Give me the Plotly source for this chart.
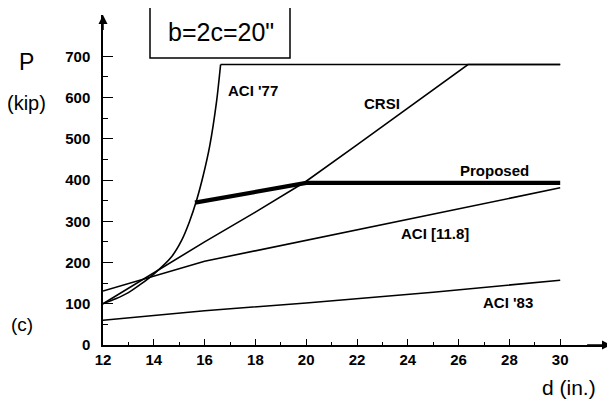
import plotly.graph_objects as go

# ---- data ----
d_aci77 = [12, 12.5, 13, 13.5, 14, 14.7, 15.1, 15.4, 15.69, 15.95, 16.2, 16.47, 16.63]
p_aci77 = [100, 112, 127, 148, 172, 214, 254, 298, 352, 412, 482, 590, 680]
d_aci77_cap = [16.63, 30]
p_aci77_cap = [680, 680]

d_crsi = [12, 14, 16, 18, 20, 22, 24, 26.37, 30]
p_crsi = [100, 175, 250, 322, 397, 485, 575, 680, 680]

d_prop = [15.62, 20, 30]
p_prop = [345, 393, 393]

d_aci118 = [12, 16, 30]
p_aci118 = [131, 203, 381]

d_aci83 = [12, 16, 20, 25, 30]
p_aci83 = [60, 83, 102, 128, 157]

x_ticks = [12, 14, 16, 18, 20, 22, 24, 26, 28, 30]
x_minor = [13, 15, 17, 19, 21, 23, 25, 27, 29]
y_ticks = [0, 100, 200, 300, 400, 500, 600, 700]
y_minor = [50, 150, 250, 350, 450, 550, 650]

# ---- layout geometry (page has an 8px body margin) ----
OFF = 8
W, H = 615 - OFF, 399 - OFF
PX0, PX1, PY0, PY1 = 103, 611, 15, 345          # plot area in screen pixels
L, R, T, B = PX0 - OFF, 615 - PX1, PY0 - OFF, 399 - PY1


def px(x):
    return (x - PX0) / (PX1 - PX0)


def py(y):
    return (PY1 - y) / (PY1 - PY0)


fig = go.Figure()
thin = dict(color="black", width=1.6)
fig.add_trace(go.Scatter(x=d_aci77, y=p_aci77, mode="lines",
                         line=dict(thin, shape="spline", smoothing=0.8), name="ACI '77"))
fig.add_trace(go.Scatter(x=d_aci77_cap, y=p_aci77_cap, mode="lines", line=thin, name="ACI '77 cap"))
fig.add_trace(go.Scatter(x=d_crsi, y=p_crsi, mode="lines", line=thin, name="CRSI"))
fig.add_trace(go.Scatter(x=d_aci118, y=p_aci118, mode="lines", line=thin, name="ACI [11.8]"))
fig.add_trace(go.Scatter(x=d_aci83, y=p_aci83, mode="lines", line=thin, name="ACI '83"))
fig.add_trace(go.Scatter(x=d_prop, y=p_prop, mode="lines", line=dict(color="black", width=4.2), name="Proposed"))

lab_font = dict(family="Liberation Sans, Arial, sans-serif", size=15, color="black", weight="bold")
labels = [("ACI '77", 17.9, 617), ("CRSI", 23.0, 586), ("Proposed", 27.4, 424),
          ("ACI [11.8]", 25.07, 271), ("ACI '83", 27.94, 102)]
for t, x, y in labels:
    fig.add_annotation(x=x, y=y, text=t, showarrow=False, font=lab_font,
                       xanchor="center", yanchor="middle")

big = dict(family="Liberation Sans, Arial, sans-serif", color="black")
outside = [("P", 26, 62, 23), ("(kip)", 26, 103, 20), ("(c)", 22, 324, 19),
           ("d (in.)", 569, 387, 21), ("b=2c=20\"", 221, 32, 25)]
for t, x, y, s in outside:
    fig.add_annotation(xref="paper", yref="paper", x=px(x), y=py(y), text=t, showarrow=False,
                       font=dict(big, size=s), xanchor="center", yanchor="middle")
fig.add_shape(type="rect", xref="paper", yref="paper", x0=px(150), x1=px(290), y0=py(58), y1=py(6),
              line=dict(color="black", width=1.5))

# axis arrows
fig.add_annotation(x=32, y=0, ax=31, ay=0, axref="x", ayref="y", text="", showarrow=True,
                   arrowhead=2, arrowsize=1.2, arrowwidth=1.5, arrowcolor="black")
fig.add_annotation(x=12, y=800, ax=12, ay=760, axref="x", ayref="y", text="", showarrow=True,
                   arrowhead=2, arrowsize=1.2, arrowwidth=1.5, arrowcolor="black")

tick_font = dict(family="Liberation Sans, Arial, sans-serif", size=15, color="black", weight="bold")
fig.update_xaxes(range=[12, 32], showline=True, linecolor="black", linewidth=1.5, mirror=False,
                 showgrid=False, zeroline=False, ticks="inside", ticklen=6, tickwidth=1.3,
                 tickcolor="black", tickvals=x_ticks, ticktext=[str(v) for v in x_ticks],
                 tickfont=tick_font,
                 minor=dict(tickvals=x_minor, ticks="inside", ticklen=3, tickcolor="black", tickwidth=1))
fig.update_yaxes(range=[0, 800], showline=True, linecolor="black", linewidth=1.5, mirror=False,
                 showgrid=False, zeroline=False, ticks="inside", ticklen=10, tickwidth=1.3,
                 tickcolor="black", tickvals=y_ticks, ticktext=[str(v) for v in y_ticks],
                 tickfont=tick_font, ticklabelstandoff=8,
                 minor=dict(tickvals=y_minor, ticks="inside", ticklen=5, tickcolor="black", tickwidth=1))

fig.update_layout(width=W, height=H, margin=dict(l=L, r=R, t=T, b=B, autoexpand=False),
                  paper_bgcolor="white", plot_bgcolor="white", showlegend=False)

fig.write_html("out.html")
